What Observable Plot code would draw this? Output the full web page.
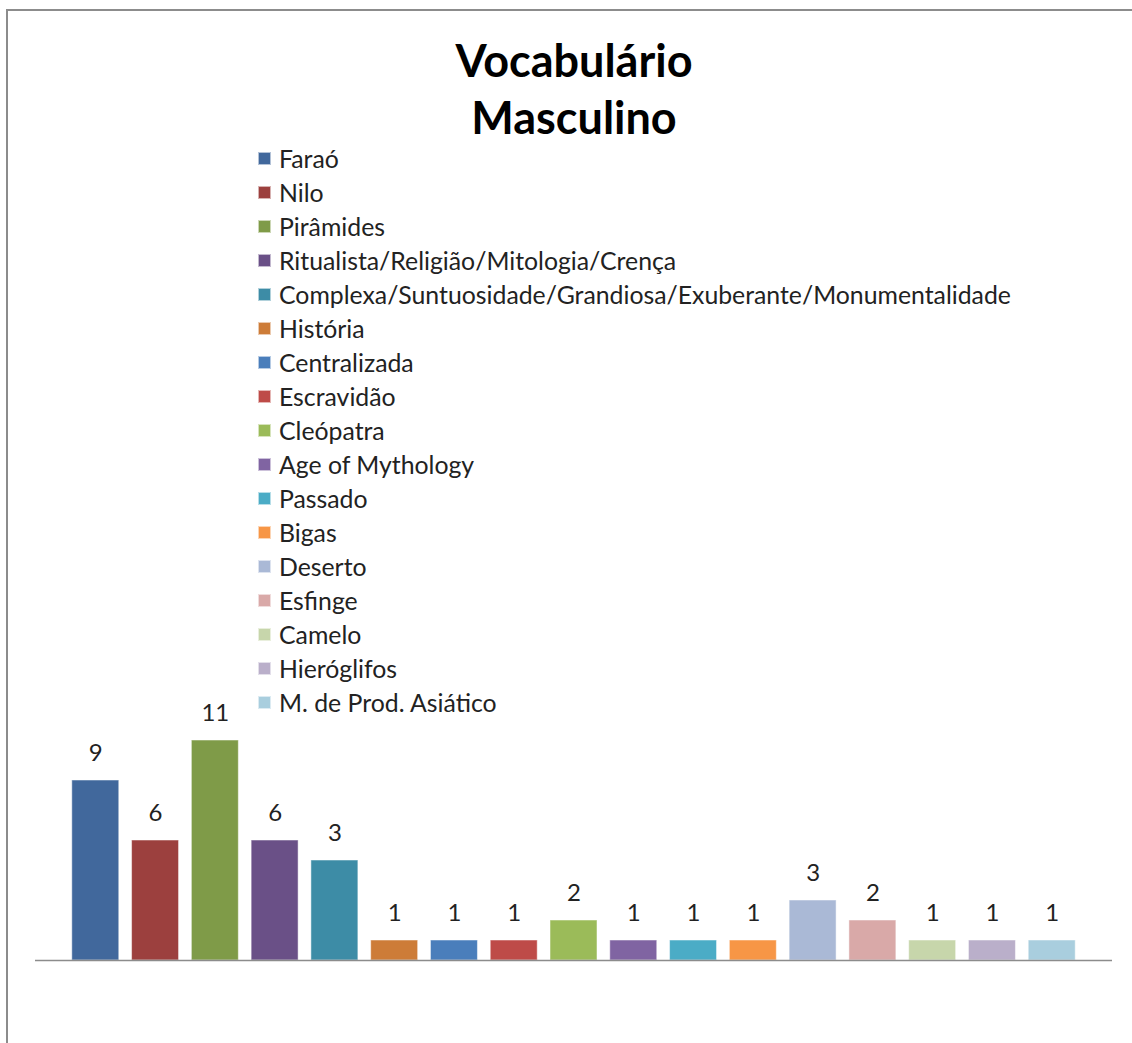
<!DOCTYPE html>
<html>
<head>
<meta charset="utf-8">
<script src="https://cdn.jsdelivr.net/npm/d3@7"></script>
<script src="https://cdn.jsdelivr.net/npm/@observablehq/plot@0.6"></script>
<style>
  html, body { margin: 0; padding: 0; background: #fff; }
  body { width: 1132px; height: 1043px; overflow: hidden; position: relative; font-family: Lato, "Open Sans", sans-serif; }
  #frame { position: absolute; left: 6px; top: 9px; width: 1200px; height: 1100px; border: 2px solid #8c8c8c; box-sizing: border-box; }
  #chart { position: absolute; left: 0; top: 0; }
  #title { position: absolute; left: 324px; width: 500px; top: 32px; text-align: center; font-weight: 700; font-size: 45px; line-height: 57px; color: #000; }
  #legend { position: absolute; left: 258px; top: 141px; color: #222; }
  .item { height: 34px; display: flex; align-items: center; white-space: nowrap; }
  .sw { width: 13px; height: 13px; margin-right: 8px; box-sizing: border-box; border: 1px solid rgba(255,255,255,0.6); }
</style>
</head>
<body>
<div id="frame"></div>
<div id="chart"></div>
<div id="title">Vocabulário<br>Masculino</div>
<div id="legend"></div>
<script>
const categories = [
  "Faraó", "Nilo", "Pirâmides", "Ritualista/Religião/Mitologia/Crença",
  "Complexa/Suntuosidade/Grandiosa/Exuberante/Monumentalidade",
  "História", "Centralizada", "Escravidão", "Cleópatra", "Age of Mythology",
  "Passado", "Bigas", "Deserto", "Esfinge", "Camelo", "Hieróglifos", "M. de Prod. Asiático"
];
// bar heights as drawn in the reference
const values = [9, 6, 11, 6, 5, 1, 1, 1, 2, 1, 1, 1, 3, 2, 1, 1, 1];
// data labels as printed in the reference
const labels = ["9", "6", "11", "6", "3", "1", "1", "1", "2", "1", "1", "1", "3", "2", "1", "1", "1"];
const colors = [
  "#41689c", "#9c403e", "#7f9b48", "#6a5087", "#3d8ca6", "#cd7c38",
  "#4a7ebb", "#be4b48", "#9bbb59", "#8064a2", "#4bacc6", "#f79646",
  "#aab9d6", "#d9a9a8", "#c7d6ab", "#baafca", "#a9cede"
];

const data = categories.map((c, i) => ({category: c, value: values[i], label: labels[i]}));

// legend font sized so the longest entry matches the reference width
const ctx = document.createElement("canvas").getContext("2d");
let fs = 22;
ctx.font = `${fs}px Lato`;
const w = ctx.measureText(categories[4]).width;
fs = Math.max(16, Math.min(26, fs * 732 / w));

const legend = document.getElementById("legend");
legend.style.fontSize = fs + "px";
categories.forEach((c, i) => {
  const row = document.createElement("div");
  row.className = "item";
  const sw = document.createElement("div");
  sw.className = "sw";
  sw.style.background = colors[i];
  const t = document.createElement("span");
  t.textContent = c;
  row.appendChild(sw);
  row.appendChild(t);
  legend.appendChild(row);
});

const plot = Plot.plot({
  width: 1132,
  height: 1043,
  marginTop: 720,
  marginBottom: 83,
  marginLeft: 35,
  marginRight: 20,
  style: {background: "transparent", fontFamily: "Lato, sans-serif"},
  x: {type: "band", domain: categories, insetLeft: 24, insetRight: 24, padding: 0.214, round: false, axis: null},
  y: {domain: [0, 12], axis: null},
  color: {domain: categories, range: colors},
  marks: [
    Plot.barY(data, {x: "category", y: "value", fill: "category", stroke: "#ffffff", strokeOpacity: 0.5, strokeWidth: 1}),
    Plot.ruleY([0], {stroke: "#8c8c8c", strokeWidth: 1.5}),
    Plot.text(data, {x: "category", y: "value", text: "label", dy: -27, fontSize: 24, fill: "#222", lineAnchor: "middle"})
  ]
});
document.getElementById("chart").appendChild(plot);
</script>
</body>
</html>
